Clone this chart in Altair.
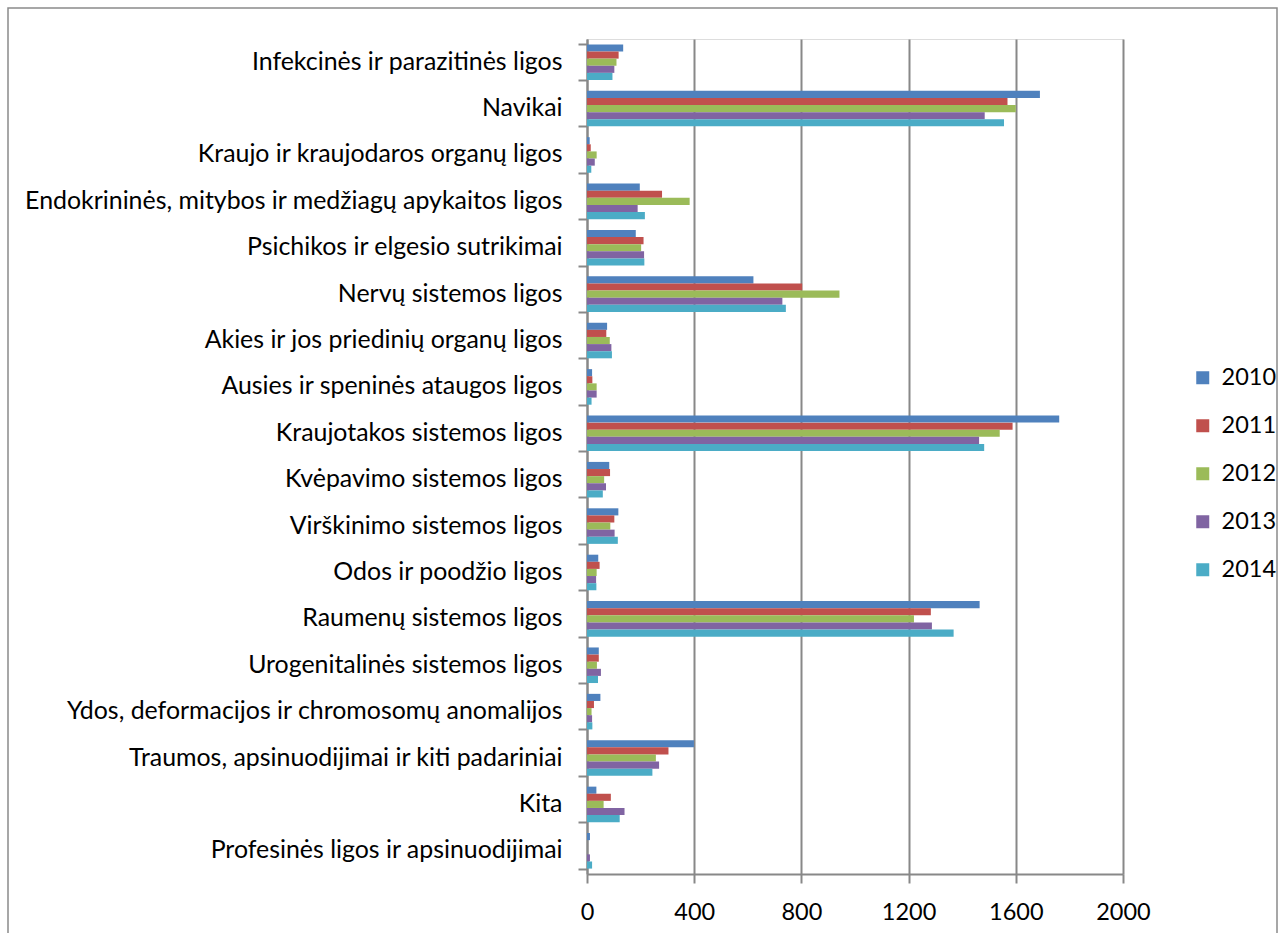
import altair as alt
import pandas as pd

categories = [
    "Infekcinės ir parazitinės ligos",
    "Navikai",
    "Kraujo ir kraujodaros organų ligos",
    "Endokrininės, mitybos ir medžiagų apykaitos ligos",
    "Psichikos ir elgesio sutrikimai",
    "Nervų sistemos ligos",
    "Akies ir jos priedinių organų ligos",
    "Ausies ir speninės ataugos ligos",
    "Kraujotakos sistemos ligos",
    "Kvėpavimo sistemos ligos",
    "Virškinimo sistemos ligos",
    "Odos ir poodžio ligos",
    "Raumenų sistemos ligos",
    "Urogenitalinės sistemos ligos",
    "Ydos, deformacijos ir chromosomų anomalijos",
    "Traumos, apsinuodijimai ir kiti padariniai",
    "Kita",
    "Profesinės ligos ir apsinuodijimai",
]
years = ["2010", "2011", "2012", "2013", "2014"]
colors = ["#4F81BD", "#C0504D", "#9BBB59", "#8064A2", "#4BACC6"]

v2010 = [135, 1690, 10, 197, 182, 621, 75, 19, 1762, 83, 117, 42, 1465, 44, 50, 399, 35, 11]
v2011 = [118, 1569, 14, 280, 211, 803, 72, 20, 1588, 86, 102, 47, 1283, 44, 26, 304, 89, 0]
v2012 = [110, 1600, 36, 383, 202, 942, 85, 36, 1540, 64, 87, 36, 1220, 37, 17, 257, 62, 0]
v2013 = [102, 1484, 29, 189, 213, 729, 91, 36, 1463, 71, 103, 34, 1287, 52, 19, 269, 140, 11]
v2014 = [95, 1556, 16, 216, 214, 742, 93, 17, 1482, 59, 115, 35, 1368, 41, 20, 244, 122, 19]

series = dict(zip(years, [v2010, v2011, v2012, v2013, v2014]))
rows = []
for y in years:
    for c, v in zip(categories, series[y]):
        rows.append({"category": c, "year": y, "value": v})
df = pd.DataFrame(rows)

FONT = "Lato"
W, H = 536, 835
LEFT, TOP = 587, 39

bars = alt.Chart(df).mark_bar(size=7.1).encode(
    x=alt.X("value:Q",
            scale=alt.Scale(domain=[0, 2000], nice=False),
            axis=alt.Axis(values=[0, 400, 800, 1200, 1600, 2000], title=None, format="d",
                          grid=True, gridColor="#888888", gridWidth=2,
                          domainColor="#888888", domainWidth=2,
                          tickColor="#888888", tickWidth=2, tickSize=9,
                          labelFlush=False,
                          labelFontSize=23.5, labelFont=FONT, labelColor="#000000",
                          labelPadding=17)),
    y=alt.Y("category:N", sort=categories,
            scale=alt.Scale(paddingInner=0.233, paddingOuter=0.1165),
            axis=alt.Axis(title=None, tickBand="extent",
                          domainColor="#888888", domainWidth=2,
                          tickColor="#888888", tickWidth=2, tickSize=9,
                          labelFontSize=24.9, labelFont=FONT, labelColor="#000000",
                          labelPadding=16, labelLimit=600)),
    yOffset=alt.YOffset("year:N", sort=years, scale=alt.Scale(paddingInner=0, paddingOuter=0)),
    color=alt.Color("year:N", sort=years,
                    scale=alt.Scale(domain=years, range=colors),
                    legend=alt.Legend(title=None, orient="none", padding=0,
                                      legendX=1191 - LEFT, legendY=366 - TOP,
                                      symbolType="square", symbolSize=169,
                                      symbolStrokeWidth=0,
                                      labelFontSize=23.5, labelFont=FONT,
                                      labelColor="#000000", rowPadding=23,
                                      labelOffset=7)),
)

border = alt.Chart(pd.DataFrame({"a": [0]})).mark_rect(
    filled=False, stroke="#8a8a8a", strokeWidth=1.5
).encode(
    x=alt.value(8 - LEFT), x2=alt.value(1277 - LEFT),
    y=alt.value(8 - TOP), y2=alt.value(960 - TOP),
)

chart = alt.layer(border, bars).properties(
    width=W, height=H,
    autosize=alt.AutoSizeParams(type="none"),
    padding={"left": LEFT, "top": TOP, "right": 1285 - LEFT - W, "bottom": 933 - TOP - H},
).configure_view(stroke=None).configure(background="#ffffff")

chart.save("out.html", embed_options={"renderer": "svg", "actions": False})
